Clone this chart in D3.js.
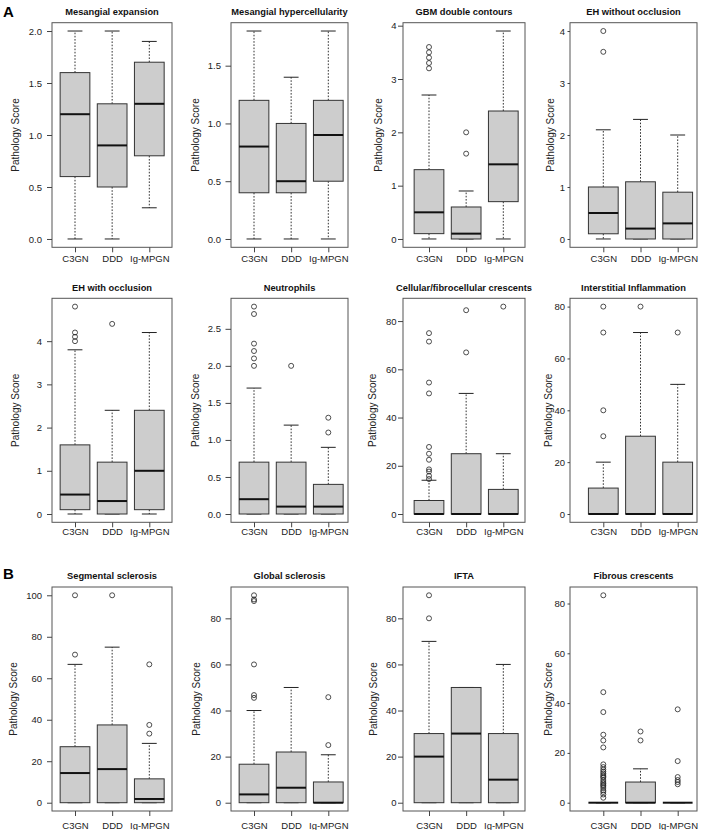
<!DOCTYPE html>
<html><head><meta charset="utf-8">
<script src="https://cdn.jsdelivr.net/npm/d3@7"></script>
<style>
body{margin:0;background:#fff}
text{font-family:"Liberation Sans",Arial,Helvetica,sans-serif}
</style>
</head><body>
<svg id="chart" width="701" height="830"></svg>
<script>
// ---------------- DATA ----------------
const groups = ["C3GN", "DDD", "Ig-MPGN"];
const titles = ["Mesangial expansion", "Mesangial hypercellularity", "GBM double contours", "EH without occlusion",
  "EH with occlusion", "Neutrophils", "Cellular/fibrocellular crescents", "Interstitial Inflammation",
  "Segmental sclerosis", "Global sclerosis", "IFTA", "Fibrous crescents"];
const whiskerLow = [[0,0,0.3],[0,0,0],[0,0,0],[0,0,0],[0,0,0],[0,0,0],[0,0,0],[0,0,0],[0,0,0],[0,0,0],[0,0,0],[0,0,0]];
const q1 = [[0.6,0.5,0.8],[0.4,0.4,0.5],[0.1,0,0.7],[0.1,0,0],[0.1,0,0.1],[0,0,0],[0,0,0],[0,0,0],[0,0,0],[0,0,0],[0,0,0],[0,0,0]];
const medians = [[1.2,0.9,1.3],[0.8,0.5,0.9],[0.5,0.1,1.4],[0.5,0.2,0.3],[0.45,0.3,1.0],[0.2,0.1,0.1],[0,0,0],[0,0,0],[14.3,16.2,1.8],[3.6,6.5,0],[20,30,10],[0,0,0]];
const q3 = [[1.6,1.3,1.7],[1.2,1.0,1.2],[1.3,0.6,2.4],[1.0,1.1,0.9],[1.6,1.2,2.4],[0.7,0.7,0.4],[5.6,25,10.2],[10,30,20],[27,37.5,11.5],[16.7,22,9],[30,50,30],[0,8.3,0]];
const whiskerHigh = [[2,2,1.9],[1.8,1.4,1.8],[2.7,0.9,3.9],[2.1,2.3,2.0],[3.8,2.4,4.2],[1.7,1.2,0.9],[14,50,25],[20,70,50],[66.7,75,28.6],[40,50,20.8],[70,50,60],[0,13.6,0]];
const outliers = [
  [[],[],[]],
  [[],[],[]],
  [[3.2,3.3,3.4,3.5,3.6],[1.6,2.0],[]],
  [[3.6,4.0],[],[]],
  [[4.0,4.1,4.2,4.8],[4.4],[]],
  [[2.0,2.1,2.2,2.3,2.7,2.8],[2.0],[1.1,1.3]],
  [[14.5,15.8,17.6,18.5,22.5,25,27.8,50,54.5,71.5,75],[67,84.5],[86]],
  [[30,40,70,80],[80],[70]],
  [[71.4,100],[100],[33.3,37.5,66.7]],
  [[45.5,46.7,60,87.5,88.2,90],[],[25,45.8]],
  [[80,90],[],[]],
  [[2,3.3,4.3,5,5.9,6.7,7.1,7.7,8.3,9.1,10,10.5,11.1,11.8,12.5,13.3,14.3,15.4,22.2,25,27.3,36.4,44.4,83.3],[25,28.6],[7.4,8.3,9.1,10.3,16.7,37.5]]
];
const yTicks = [[0,0.5,1,1.5,2],[0,0.5,1,1.5],[0,1,2,3,4],[0,1,2,3,4],[0,1,2,3,4],[0,0.5,1,1.5,2,2.5],
  [0,20,40,60,80],[0,20,40,60,80],[0,20,40,60,80,100],[0,20,40,60,80],[0,20,40,60,80],[0,20,40,60,80]];
const yLabel = "Pathology Score";
const sectionLabels = ["A", "B"];

// ---------------- LAYOUT ----------------
const colFrame = [[52,172],[231,348],[403,525],[570,697]];
const colCats = [[75,149.3],[254,328.3],[429,503.3],[603.3,677.7]];
const colTickLen = [5, 5.5, 5, 2.5];
const colTickPad = [5, 4.5, 1.5, 2.5];
const rowFrame = [[22.7,247.3],[298.3,522.3],[587,811]];
const rowXLabelOffset = [11, 9, 15];
const ylabX = [15,195.7,378.3,550, 15,195.7,372.7,548.3, 13.3,196.7,373.3,548.3];
const sectionLabelY = [12, 574];

const svg = d3.select("#chart");
svg.append("rect").attr("width",701).attr("height",830).attr("fill","#fff");

titles.forEach((title, p) => {
  const r = Math.floor(p / 4), c = p % 4;
  const [fl, fr] = colFrame[c];
  const [ft, fb] = rowFrame[r];
  const g = svg.append("g");

  const x = d3.scaleLinear().domain([1, 3]).range(colCats[c]);
  const spacing = x(2) - x(1);
  const bw = 0.8 * spacing;
  const capW = 0.5 * bw;

  const allVals = [].concat(...whiskerLow[p], ...whiskerHigh[p], ...outliers[p].flat());
  const lo = d3.min(allVals), hi = d3.max(allVals);
  const ext = hi - lo;
  const y = d3.scaleLinear().domain([lo - 0.04*ext, hi + 0.04*ext]).range([fb, ft]);

  groups.forEach((grp, i) => {
    const cx = x(i + 1);
    g.append("line").attr("x1",cx).attr("x2",cx).attr("y1",y(q3[p][i])).attr("y2",y(whiskerHigh[p][i]))
      .attr("stroke","#333").attr("stroke-width",1).attr("stroke-dasharray","1.6,1.6");
    g.append("line").attr("x1",cx).attr("x2",cx).attr("y1",y(q1[p][i])).attr("y2",y(whiskerLow[p][i]))
      .attr("stroke","#333").attr("stroke-width",1).attr("stroke-dasharray","1.6,1.6");
    [whiskerHigh[p][i], whiskerLow[p][i]].forEach(v => {
      g.append("line").attr("x1",cx-capW/2).attr("x2",cx+capW/2).attr("y1",y(v)).attr("y2",y(v))
        .attr("stroke","#222").attr("stroke-width",1);
    });
    g.append("rect").attr("x",cx-bw/2).attr("width",bw)
      .attr("y",y(q3[p][i])).attr("height",Math.max(0,y(q1[p][i]) - y(q3[p][i])))
      .attr("fill","#cdcdcd").attr("stroke","#333").attr("stroke-width",1);
    g.append("line").attr("x1",cx-bw/2).attr("x2",cx+bw/2).attr("y1",y(medians[p][i])).attr("y2",y(medians[p][i]))
      .attr("stroke","#111").attr("stroke-width",2);
    outliers[p][i].forEach(v => {
      g.append("circle").attr("cx",cx).attr("cy",y(v)).attr("r",2.5)
        .attr("fill","none").attr("stroke","#222").attr("stroke-width",0.8);
    });
  });

  g.append("rect").attr("x",fl).attr("y",ft).attr("width",fr-fl).attr("height",fb-ft)
    .attr("fill","none").attr("stroke","#555").attr("stroke-width",1);

  const dec = yTicks[p].some(t => t % 1 !== 0);
  const fmt = dec ? d3.format(".1f") : d3.format("d");
  const yAxis = d3.axisLeft(y).tickValues(yTicks[p]).tickFormat(fmt).tickSize(colTickLen[c]).tickPadding(colTickPad[c]);
  const ya = g.append("g").attr("transform",`translate(${fl},0)`).call(yAxis);
  ya.select(".domain").remove();
  ya.selectAll("line").attr("stroke","#444");
  ya.selectAll("text").attr("font-size",9.5).attr("fill","#222")
    .attr("font-family",'"Liberation Sans",Arial,Helvetica,sans-serif');

  const xAxis = d3.axisBottom(x).tickValues([1,2,3]).tickFormat(d => groups[d-1]).tickSize(5).tickPadding(3);
  const xa = g.append("g").attr("transform",`translate(0,${fb})`).call(xAxis);
  xa.select(".domain").remove();
  xa.selectAll("line").attr("stroke","#444");
  xa.selectAll("text").attr("font-size",9.5).attr("fill","#222")
    .attr("font-family",'"Liberation Sans",Arial,Helvetica,sans-serif')
    .attr("y", rowXLabelOffset[r]).attr("dy","0.35em");

  g.append("text").attr("x",(fl+fr)/2).attr("y",ft-11).attr("dy","0.35em")
    .attr("text-anchor","middle").attr("font-size",9.3).attr("font-weight","bold").attr("fill","#111")
    .text(title);

  g.append("text").attr("transform",`translate(${ylabX[p]},${(ft+fb)/2}) rotate(-90)`)
    .attr("dy","0.35em").attr("text-anchor","middle").attr("font-size",10).attr("fill","#222")
    .text(yLabel);
});

sectionLabels.forEach((s, k) => {
  svg.append("text").attr("x",3).attr("y",sectionLabelY[k]).attr("dy","0.35em")
    .attr("font-size",15).attr("font-weight","bold").attr("fill","#000").text(s);
});
</script>
</body></html>
